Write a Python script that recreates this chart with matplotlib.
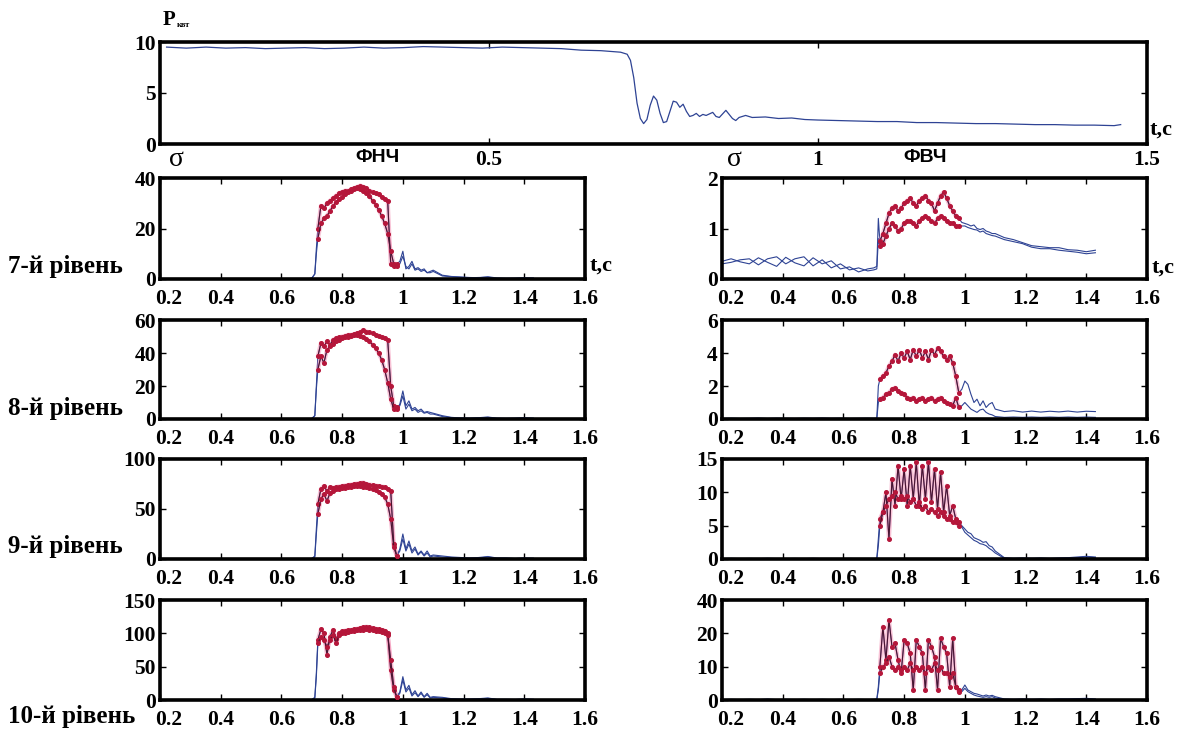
import matplotlib
matplotlib.use("Agg")
import matplotlib.pyplot as plt
import matplotlib.transforms as mtransforms
import numpy as np

plt.rcParams['font.family'] = ['Liberation Serif', 'DejaVu Serif']

# ---------------- data ----------------
# power, kW
p_time = [0.01, 0.04, 0.07, 0.10, 0.13, 0.16, 0.19, 0.22, 0.25, 0.28, 0.31, 0.34,
          0.37, 0.40, 0.43, 0.46, 0.49, 0.52, 0.55, 0.58, 0.61, 0.64, 0.67, 0.70,
          0.71, 0.715, 0.72, 0.725, 0.73, 0.735, 0.74, 0.745, 0.75, 0.755, 0.76,
          0.765, 0.77, 0.775, 0.78, 0.785, 0.79, 0.795, 0.80, 0.805, 0.81, 0.815,
          0.82, 0.825, 0.83, 0.84, 0.845, 0.85, 0.86, 0.865, 0.87, 0.875, 0.88,
          0.89, 0.90, 0.92, 0.94, 0.96, 0.98, 1.00, 1.03, 1.06, 1.09, 1.12, 1.15,
          1.18, 1.21, 1.24, 1.27, 1.30, 1.33, 1.36, 1.39, 1.42, 1.45, 1.46]
p_kw = [9.5, 9.4, 9.5, 9.4, 9.45, 9.35, 9.4, 9.45, 9.35, 9.4, 9.5, 9.4,
        9.45, 9.55, 9.5, 9.45, 9.4, 9.5, 9.45, 9.4, 9.35, 9.2, 9.15, 9.0,
        8.8, 8.2, 6.5, 4.0, 2.5, 2.0, 2.4, 3.8, 4.7, 4.3, 3.0,
        2.1, 2.2, 3.2, 4.2, 4.1, 3.6, 3.9, 3.2, 2.7, 2.8, 3.0,
        2.7, 2.9, 2.8, 3.1, 2.7, 2.6, 3.3, 2.9, 2.5, 2.3, 2.6,
        2.8, 2.6, 2.65, 2.5, 2.55, 2.4, 2.35, 2.3, 2.25, 2.2, 2.2, 2.1,
        2.1, 2.05, 2.0, 2.0, 1.95, 1.9, 1.9, 1.85, 1.85, 1.8, 1.9]

# time grid of the wavelet levels
t = [0.20, 0.23, 0.26, 0.29, 0.32, 0.35, 0.38, 0.41, 0.44, 0.47, 0.50, 0.53,
     0.56, 0.59, 0.62, 0.65, 0.68, 0.70, 0.71, 0.715,
     0.72, 0.73, 0.74, 0.75, 0.76, 0.77, 0.78, 0.79, 0.80, 0.81, 0.82, 0.83,
     0.84, 0.85, 0.86, 0.87, 0.88, 0.89, 0.90, 0.91, 0.92, 0.93, 0.94, 0.95,
     0.96, 0.97, 0.98,
     0.99, 1.00, 1.01, 1.02, 1.03, 1.04, 1.05, 1.06, 1.07, 1.08, 1.09, 1.10,
     1.13, 1.16, 1.19, 1.22, 1.25, 1.28, 1.31, 1.34, 1.37, 1.40, 1.43]

# low-pass filter (ФНЧ), levels 7..10, two signals each
lp7_a = [0, 0, 0, 0, 0, 0, 0, 0, 0, 0, 0, 0, 0, 0, 0, 0, 0, 0.3, 2, 12,
         20, 29, 28, 30, 31, 32, 33, 34, 34.5, 35, 35, 35.5, 36, 36.5, 37, 36.5,
         36, 35, 34.5, 34, 33.5, 32.5, 31.5, 31, 6, 5, 6,
         7, 11, 4, 5, 7, 4, 4.5, 3.5, 4, 2.5, 3, 3.5,
         1.5, 1, 0.8, 0.6, 0.5, 0.9, 0.4, 0.3, 0.3, 0.5, 0.4]
lp7_b = [0, 0, 0, 0, 0, 0, 0, 0, 0, 0, 0, 0, 0, 0, 0, 0, 0, 0.3, 2, 10,
         16, 22, 24, 25, 27, 29, 30.5, 31.5, 32.5, 33.5, 34.5, 35, 35.5, 36, 35.5, 35,
         34, 33, 31, 29.5, 27.5, 25, 22, 18, 11, 6, 5,
         6, 9, 5, 4, 6, 3.5, 4, 3, 3.5, 2.5, 2.5, 3,
         1.2, 0.9, 0.7, 0.5, 0.6, 0.7, 0.3, 0.2, 0.3, 0.4, 0.3]
lp8_a = [0, 0, 0, 0, 0, 0, 0, 0, 0, 0, 0, 0, 0, 0, 0, 0, 0, 0.3, 2, 20,
         38, 46, 44, 47, 45, 48, 49, 49.5, 50, 50.5, 51, 51, 51.5, 52, 52.5, 54,
         53, 52.5, 52, 51, 50.5, 49.5, 49, 48, 20, 8, 6,
         9, 17, 8, 11, 6, 7, 5, 6, 4, 4.5, 4, 3.5,
         2, 1, 0.6, 0.5, 0.8, 1.2, 0.5, 0.4, 0.5, 0.8, 0.5]
lp8_b = [0, 0, 0, 0, 0, 0, 0, 0, 0, 0, 0, 0, 0, 0, 0, 0, 0, 0.3, 2, 18,
         30, 38, 34, 42, 44, 45.5, 47, 48, 49, 49.5, 50, 50.5, 51, 51, 50.5, 50,
         48.5, 47, 45, 43, 40, 36, 30, 22, 12, 6, 7,
         8, 14, 6, 9, 5, 6, 4, 5, 3.5, 4, 3, 3,
         1.5, 0.8, 0.5, 0.4, 0.7, 1, 0.4, 0.3, 0.4, 0.6, 0.4]
lp9_a = [0, 0, 0, 0, 0, 0, 0, 0, 0, 0, 0, 0, 0, 0, 0, 0, 0, 0.5, 3, 30,
         55, 70, 73, 68, 72, 71, 72, 72.5, 73, 73.5, 74, 74.5, 75, 75.5, 76, 76.5,
         75, 74.5, 74, 73.5, 73, 72.5, 72, 70, 68, 15, 3,
         10, 25, 10, 18, 8, 12, 5, 8, 4, 8, 3, 4,
         3, 2, 1.5, 1, 1.5, 2.5, 1, 1, 0.5, 1, 0.8]
lp9_b = [0, 0, 0, 0, 0, 0, 0, 0, 0, 0, 0, 0, 0, 0, 0, 0, 0, 0.5, 2, 25,
         45, 60, 65, 58, 66, 68, 70, 70.5, 71, 71.5, 72, 72.5, 73, 73, 73, 72.5,
         72, 71, 70, 69, 67, 65, 62, 55, 40, 12, 3,
         8, 20, 8, 15, 6, 10, 4, 7, 3, 6, 2, 3,
         2, 1.5, 1, 0.8, 1, 2, 0.8, 0.7, 0.4, 0.8, 0.6]
lp10_a = [0, 0, 0, 0, 0, 0, 0, 0, 0, 0, 0, 0, 0, 0, 0, 0, 0, 0.5, 4, 40,
          90, 106, 100, 68, 95, 105, 92, 100, 103, 104, 105, 105, 106, 107, 108, 109,
          110, 109, 108, 107, 106, 105, 104, 100, 45, 15, 5,
          12, 35, 15, 22, 8, 14, 6, 12, 5, 10, 4, 5,
          4, 2, 1.5, 1.5, 2, 3, 1, 1, 0.8, 1.5, 1]
lp10_b = [0, 0, 0, 0, 0, 0, 0, 0, 0, 0, 0, 0, 0, 0, 0, 0, 0, 0.5, 3, 35,
          85, 95, 90, 80, 90, 98, 85, 97, 100, 101, 102, 103, 104, 104.5, 105, 105.5,
          106, 105.5, 105, 104, 103, 102, 101, 98, 60, 20, 4,
          10, 30, 12, 18, 6, 11, 5, 10, 4, 8, 3, 4,
          3, 1.5, 1, 1, 1.5, 2.5, 0.8, 0.8, 0.6, 1.2, 0.8]

# high-pass filter (ФВЧ), levels 7..10, two signals each
hp7_a = [0.35, 0.40, 0.34, 0.30, 0.42, 0.33, 0.25, 0.43, 0.32, 0.26, 0.42, 0.30,
         0.36, 0.20, 0.24, 0.14, 0.20, 0.22, 0.25, 1.2,
         0.75, 0.9, 1.1, 1.3, 1.4, 1.45, 1.35, 1.4, 1.5, 1.55, 1.6, 1.5,
         1.45, 1.55, 1.6, 1.65, 1.55, 1.5, 1.35, 1.5, 1.65, 1.72, 1.6, 1.45,
         1.35, 1.25, 1.2,
         1.12, 1.1, 1.08, 1.05, 1.07, 1.0, 0.98, 1.0, 0.95, 0.93, 0.9, 0.9,
         0.82, 0.78, 0.72, 0.66, 0.64, 0.62, 0.62, 0.58, 0.57, 0.54, 0.57]
hp7_b = [0.30, 0.33, 0.38, 0.40, 0.28, 0.40, 0.44, 0.30, 0.40, 0.44, 0.26, 0.38,
         0.22, 0.30, 0.18, 0.22, 0.16, 0.18, 0.20, 0.8,
         0.65, 0.7, 0.85, 1.0, 1.1, 1.05, 0.95, 1.0, 1.1, 1.15, 1.15, 1.1,
         1.05, 1.15, 1.2, 1.25, 1.2, 1.15, 1.1, 1.2, 1.25, 1.2, 1.15, 1.1,
         1.1, 1.05, 1.05,
         1.05, 1.05, 1.02, 1.0, 0.98, 0.97, 0.93, 0.95, 0.9, 0.88, 0.86, 0.85,
         0.78, 0.74, 0.7, 0.63, 0.6, 0.6, 0.57, 0.55, 0.53, 0.5, 0.52]
hp8_a = [0.03, 0.05, 0.03, 0.04, 0.06, 0.03, 0.05, 0.04, 0.03, 0.05, 0.04, 0.06,
         0.04, 0.05, 0.03, 0.04, 0.05, 0.04, 0.05, 2.0,
         2.4, 2.6, 2.8, 3.2, 3.5, 3.9, 3.5, 4.0, 3.7, 4.1, 3.6, 4.2,
         3.8, 4.2, 3.7, 4.1, 3.6, 4.2, 3.9, 4.3, 4.1, 3.8, 3.6, 3.8,
         3.4, 2.6, 1.6,
         1.8, 2.3, 2.1, 1.5, 1.0, 1.2, 0.8, 1.1, 0.7, 0.9, 1.0, 0.6,
         0.45, 0.5, 0.42, 0.48, 0.42, 0.47, 0.43, 0.48, 0.42, 0.47, 0.45]
hp8_b = [0.01, 0.02, 0.01, 0.02, 0.01, 0.02, 0.01, 0.02, 0.01, 0.02, 0.01, 0.02,
         0.01, 0.02, 0.01, 0.02, 0.01, 0.02, 0.03, 1.0,
         1.2, 1.3, 1.5, 1.6, 1.8, 1.9, 1.7, 1.6, 1.5, 1.3, 1.2, 1.3,
         1.1, 1.2, 1.3, 1.1, 1.2, 1.3, 1.1, 1.2, 1.3, 1.1, 1.0, 0.9,
         0.8, 1.3, 0.7,
         0.8, 1.0, 0.8, 0.6, 0.5, 0.4, 0.55, 0.6, 0.4, 0.3, 0.25, 0.15,
         0.1, 0.12, 0.1, 0.12, 0.1, 0.12, 0.1, 0.12, 0.1, 0.12, 0.1]
hp9_a = [0.05, 0.1, 0.05, 0.08, 0.05, 0.1, 0.06, 0.05, 0.08, 0.05, 0.1, 0.05,
         0.07, 0.05, 0.08, 0.05, 0.06, 0.05, 0.1, 3,
         6, 7, 10, 3, 12, 8, 14, 9, 13.5, 8, 14, 9,
         14.5, 8, 14, 9, 14.5, 8.5, 13.5, 7.5, 13, 7, 11, 6.5,
         8, 6, 5.5,
         5, 4.5, 4, 3.8, 3.2, 3.0, 2.8, 2.5, 2.6, 2, 1.8, 1.2,
         0.2, 0.1, 0.15, 0.1, 0.15, 0.1, 0.15, 0.2, 0.3, 0.4, 0.3]
hp9_b = [0.03, 0.05, 0.03, 0.04, 0.03, 0.05, 0.03, 0.04, 0.03, 0.05, 0.03, 0.04,
         0.03, 0.05, 0.03, 0.04, 0.03, 0.04, 0.05, 2,
         5, 7, 8, 9, 9.5, 10, 9, 9.5, 9, 9.5, 8.5, 9,
         8, 8.5, 7.5, 8, 7, 7.5, 7, 6.5, 7, 6.5, 6, 6,
         5.5, 5.5, 5,
         4.8, 4, 3.6, 3.2, 2.8, 2.6, 2.3, 2.2, 2.0, 1.6, 1.3, 0.9,
         0.1, 0.05, 0.1, 0.05, 0.1, 0.05, 0.1, 0.15, 0.2, 0.3, 0.2]
hp10_a = [0.1, 0.2, 0.1, 0.2, 0.1, 0.3, 0.1, 0.2, 0.1, 0.2, 0.1, 0.2,
          0.1, 0.2, 0.1, 0.2, 0.1, 0.2, 0.3, 4,
          10, 22, 12, 24, 16, 17, 12, 8, 18, 17, 14, 3,
          18, 16, 14, 3, 18, 16, 13, 3, 18.5, 16, 14, 4,
          18.5, 4, 2.5,
          3, 4.5, 3, 2.5, 2, 1.8, 1.5, 1.2, 1.5, 1.2, 1.4, 1.0,
          0.3, 0.2, 0.3, 0.2, 0.3, 0.2, 0.3, 0.3, 0.4, 0.5, 0.3]
hp10_b = [0.05, 0.1, 0.05, 0.1, 0.05, 0.1, 0.05, 0.1, 0.05, 0.1, 0.05, 0.1,
          0.05, 0.1, 0.05, 0.1, 0.05, 0.1, 0.2, 3,
          8, 10, 11, 13, 10, 9, 10, 9, 10, 9, 11, 9,
          10, 9, 10, 8, 10, 9, 11, 9, 10, 8, 8, 7,
          8, 4, 3,
          2.5, 3.5, 2.5, 2, 1.5, 1.2, 1.0, 0.8, 1.0, 0.8, 1.0, 0.6,
          0.2, 0.1, 0.2, 0.1, 0.2, 0.1, 0.2, 0.2, 0.3, 0.3, 0.2]

row_labels = ["7-й рівень", "8-й рівень", "9-й рівень", "10-й рівень"]
lp_series = [(lp7_a, lp7_b), (lp8_a, lp8_b), (lp9_a, lp9_b), (lp10_a, lp10_b)]
hp_series = [(hp7_a, hp7_b), (hp8_a, hp8_b), (hp9_a, hp9_b), (hp10_a, hp10_b)]
lp_ylim = [40, 60, 100, 150]
lp_yticks = [[0, 20, 40], [0, 20, 40, 60], [0, 50, 100], [0, 50, 100, 150]]
hp_ylim = [2, 6, 15, 30]
hp_yticks = [[0, 1, 2], [0, 2, 4, 6], [0, 5, 10, 15], [0, 10, 20, 30]]
hp_yticklabels = [["0", "1", "2"], ["0", "2", "4", "6"], ["0", "5", "10", "15"],
                  ["0", "10", "20", "40"]]
x_ticks = [0.2, 0.4, 0.6, 0.8, 1.0, 1.2, 1.4, 1.6]
x_ticklabels = ["0.2", "0.4", "0.6", "0.8", "1", "1.2", "1.4", "1.6"]

# ---------------- drawing ----------------
W, H = 1181, 733
fig = plt.figure(figsize=(W / 100, H / 100), dpi=100)
fig.patch.set_facecolor("white")

NAVY = "#2e4394"
RED = "#b5163a"
PINK = "#f07aa6"
DARK = "#4a1530"
SERIF = ['Liberation Serif', 'DejaVu Serif']
TICK_SIZE = 15.5


def px_box(x0, y0, x1, y1):
    return [x0 / W, 1 - y1 / H, (x1 - x0) / W, (y1 - y0) / H]


def style_axes(ax, xpad=7):
    for s in ax.spines.values():
        s.set_linewidth(2.6)
        s.set_color("black")
    ax.tick_params(direction="in", length=4, width=1, top=True, right=True)
    ax.tick_params(axis="y", pad=3)
    ax.tick_params(axis="x", pad=xpad)
    for lab in ax.get_xticklabels() + ax.get_yticklabels():
        lab.set_fontfamily(SERIF)
        lab.set_fontweight("bold")
        lab.set_fontsize(TICK_SIZE)


def shift_first_xlabel(ax, dx_px):
    lab = ax.get_xticklabels()[0]
    off = mtransforms.ScaledTranslation(dx_px / 100, 0, fig.dpi_scale_trans)
    lab.set_transform(lab.get_transform() + off)


def fig_text(x, y, s, **kw):
    fig.text(x / W, 1 - y / H, s, **kw)


# power
ax0 = fig.add_axes(px_box(160, 42, 1147, 144))
ax0.plot(p_time, p_kw, color=NAVY, lw=0.9)
ax0.set_xlim(0, 1.5)
ax0.set_ylim(0, 10)
ax0.set_xticks([0.5, 1.0, 1.5])
ax0.set_xticklabels(["0.5", "1", "1.5"])
ax0.set_yticks([0, 5, 10])
ax0.set_yticklabels(["0", "5", "10"])
style_axes(ax0, xpad=4)

t_arr = np.array(t)
active = (t_arr >= 0.72) & (t_arr <= 0.98)

rows_y = [(178, 279), (320, 419), (459, 559), (600, 700)]
cols_x = [(160, 585), (722, 1147)]


def draw_level(ax, a, b):
    a = np.array(a, dtype=float)
    b = np.array(b, dtype=float)
    for s in (a, b):
        ax.plot(t_arr, s, color=NAVY, lw=0.8, zorder=2)
    for s in (a, b):
        ax.plot(t_arr[active], s[active], color=PINK, lw=3.0, alpha=0.45,
                solid_capstyle="round", zorder=3)
        ax.plot(t_arr[active], s[active], color=DARK, lw=0.8, zorder=4,
                marker="o", ms=2.6, mfc=RED, mec=RED)


for i in range(4):
    y0, y1 = rows_y[i]
    # low-pass column
    axl = fig.add_axes(px_box(cols_x[0][0], y0, cols_x[0][1], y1))
    draw_level(axl, *lp_series[i])
    axl.set_xlim(0.2, 1.6)
    axl.set_ylim(0, lp_ylim[i])
    axl.set_xticks(x_ticks)
    axl.set_xticklabels(x_ticklabels)
    axl.set_yticks(lp_yticks[i])
    axl.set_yticklabels([str(v) for v in lp_yticks[i]])
    style_axes(axl)
    shift_first_xlabel(axl, 9)
    # high-pass column
    axr = fig.add_axes(px_box(cols_x[1][0], y0, cols_x[1][1], y1))
    draw_level(axr, *hp_series[i])
    axr.set_xlim(0.2, 1.6)
    axr.set_ylim(0, hp_ylim[i])
    axr.set_xticks(x_ticks)
    axr.set_xticklabels(x_ticklabels)
    axr.set_yticks(hp_yticks[i])
    axr.set_yticklabels(hp_yticklabels[i])
    style_axes(axr)
    shift_first_xlabel(axr, 9)

# annotations
bold_serif = dict(family=SERIF, weight="bold")
fig_text(163, 20, "P", size=15, va="center", ha="left", **bold_serif)
fig_text(177, 25, "квт", size=6, va="center", ha="left", **bold_serif)
fig_text(1150, 130, "t,c", size=16, va="center", ha="left", **bold_serif)
fig_text(590, 266, "t,c", size=16, va="center", ha="left", **bold_serif)
fig_text(1152, 268, "t,c", size=16, va="center", ha="left", **bold_serif)

sans_bold = dict(family=['Liberation Sans', 'DejaVu Sans'], weight="bold")
fig_text(378, 157, "ФНЧ", size=14, va="center", ha="center", **sans_bold)
fig_text(925, 157, "ФВЧ", size=14, va="center", ha="center", **sans_bold)

fig_text(176, 160, "σ", size=20, va="center", ha="center", family=SERIF)
fig_text(734, 160, "σ", size=20, va="center", ha="center", family=SERIF)

label_y = [267, 409, 547, 717]
for lab, yy in zip(row_labels, label_y):
    fig_text(8, yy, lab, size=18, va="center", ha="left", **bold_serif)

fig.savefig("out.png", dpi=100, facecolor="white")
